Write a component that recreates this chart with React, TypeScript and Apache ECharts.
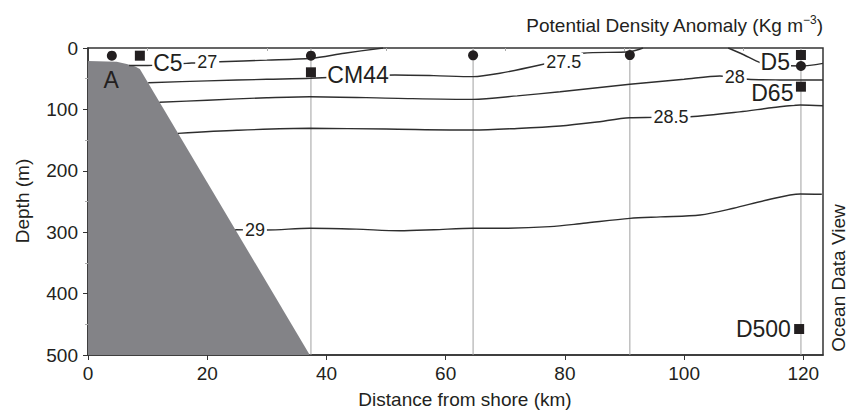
import React, { useEffect, useRef } from "react";
import * as echarts from "echarts";

// ---- data (distance km, depth m) ----
const xMax = 123.3;
const xTicks = [0, 20, 40, 60, 80, 100, 120];
const xMinorTicks = [10, 30, 50, 70, 90, 110];
const yTicks = [0, 100, 200, 300, 400, 500];
const yMinorTicks = [50, 150, 250, 350, 450];

const shelf = [
  [0, 21], [4.8, 22.5], [6.5, 26], [7.9, 30], [8.7, 34], [37.2, 500], [0, 500],
];

const stationLineX = [37.4, 64.6, 90.9, 119.6];

const circleStations = [
  [4.0, 12.5], [37.4, 12.5], [64.6, 12], [90.9, 11.5], [119.6, 29.3],
];
const squareStations = [
  [8.7, 12.5], [37.4, 39.6], [119.6, 11.4], [119.6, 63], [119.3, 457.7],
];

const stationNames = ["A", "C5", "CM44", "D5", "D65", "D500"];
const stationLabelX = [3.9, 13.4, 45.3, 115.3, 114.8, 113.3];
const stationLabelD = [52, 25, 44, 22.3, 73.8, 457.7];

const contourNames = ["27", "27.5", "28", "28.5", "29"];
const contourLabelX = [20.0, 79.8, 108.5, 97.8, 28.0];
const contourLabelD = [22, 23, 46.5, 113, 296.4];

const c27 = [
  [6.9, 28.5], [10, 28.5], [13, 27], [16.5, 25], [19, 23.5], [22.1, 22.3],
  [30, 19.8], [37.4, 16.8], [43, 8.5], [49.5, 0],
];
const c275a = [
  [10.1, 56.5], [20, 53.5], [30, 51], [37.4, 49.3], [45, 46], [51.5, 44],
  [58, 45], [64.6, 46.7], [69.1, 41.2], [75.8, 27.7], [79.8, 18], [83, 8.6],
  [90.9, 6], [93.1, 0],
];
const c275b = [
  [107.4, 0], [110, 11], [112.8, 24], [116, 28], [119.6, 29.3], [123.3, 25],
];
const c28 = [
  [12.0, 88.4], [20, 85], [30, 81], [37.2, 79.3], [52, 82], [64.6, 83.6],
  [72, 78], [79.2, 71.2], [90.9, 59.1], [100, 51], [106, 45.6], [110.7, 51],
  [116, 52], [123.3, 52.1],
];
const c285 = [
  [15.1, 139], [25, 134], [37.2, 130.8], [50, 132], [64.6, 133.6], [72, 131],
  [79.2, 127], [85, 121], [90.9, 113.5], [95, 113], [101, 111.9], [109.3, 104],
  [115, 97], [119.5, 92.8], [123.3, 94],
];
const c29 = [
  [24.7, 296], [30, 296.4], [37.2, 293.6], [45, 295], [52.3, 297.6], [58, 296],
  [64.6, 293.6], [69.1, 293.6], [77.5, 291], [83.1, 285.5], [90.9, 277.4],
  [96, 275], [102.7, 272], [108.3, 261], [113.9, 247.6], [119.5, 237.8],
  [123.1, 238.3],
];
const contours = [c27, c275a, c275b, c28, c285, c29];

const FONT = "'Liberation Sans', Arial, Helvetica, sans-serif";
const TXT = "#231f20";

export default function App() {
  const ref = useRef<HTMLDivElement>(null);

  useEffect(() => {
    if (!ref.current) return;
    const chart = echarts.init(ref.current, null, { renderer: "svg" });

    const gridL = 88, gridT = 48, gridW = 735, gridH = 307;

    const contourSeries = contours.map((c) => ({
      type: "line",
      data: c,
      smooth: 0.3,
      showSymbol: false,
      symbol: "none",
      silent: true,
      z: 3,
      lineStyle: { color: "#2e2e2e", width: 1.4 },
    }));

    const vLines = stationLineX.map((x) => ({
      type: "line",
      data: [[x, 0], [x, 500]],
      symbol: "none",
      silent: true,
      z: 2,
      lineStyle: { color: "#a0a0a0", width: 1 },
    }));

    const option = {
      animation: false,
      backgroundColor: "#fff",
      textStyle: { fontFamily: FONT },
      grid: {
        left: gridL, top: gridT, width: gridW, height: gridH,
        show: true, borderColor: "#333", borderWidth: 1.5,
        backgroundColor: "transparent",
      },
      xAxis: [
        {
          type: "value", min: 0, max: xMax,
          axisLine: { show: true, onZero: false, lineStyle: { color: "#333", width: 1.5 } },
          axisTick: { show: true, customValues: xTicks, length: 5, lineStyle: { color: "#333", width: 1 } },
          axisLabel: { customValues: xTicks, fontSize: 19, color: TXT, margin: 9, fontFamily: FONT },
          splitLine: { show: false },
        },
        {
          type: "value", min: 0, max: xMax, position: "bottom",
          axisLine: { show: false },
          axisTick: { show: true, customValues: xMinorTicks, length: 3, lineStyle: { color: "#aaa", width: 1 } },
          axisLabel: { show: false },
          splitLine: { show: false },
        },
      ],
      yAxis: [
        {
          type: "value", min: 0, max: 500, interval: 100, inverse: true,
          axisLine: { show: true, onZero: false, lineStyle: { color: "#333", width: 1.5 } },
          axisTick: { show: true, customValues: yTicks, length: 5, lineStyle: { color: "#333", width: 1 } },
          axisLabel: { customValues: yTicks, fontSize: 19, color: TXT, margin: 10, fontFamily: FONT },
          splitLine: { show: false },
        },
        {
          type: "value", min: 0, max: 500, inverse: true, position: "left",
          axisLine: { show: false },
          axisTick: { show: true, customValues: yMinorTicks, length: 3, lineStyle: { color: "#aaa", width: 1 } },
          axisLabel: { show: false },
          splitLine: { show: false },
        },
      ],
      series: [
        {
          type: "custom",
          silent: true,
          z: 1,
          data: [[0, 0]],
          renderItem: (params: any, api: any) => {
            const pts = shelf.map((p) => api.coord(p));
            return { type: "polygon", shape: { points: pts }, style: { fill: "#838387" } };
          },
        },
        ...vLines,
        ...contourSeries,
        {
          type: "scatter",
          silent: true,
          z: 5,
          symbolSize: 1,
          itemStyle: { color: "transparent", opacity: 1 },
          data: contourNames.map((n, i) => ({ name: n, value: [contourLabelX[i], contourLabelD[i]] })),
          label: {
            show: true, position: "inside", formatter: "{b}", fontSize: 18,
            color: TXT, backgroundColor: "#fff", padding: [0, 2], fontFamily: FONT, opacity: 1,
          },
        },
        {
          type: "scatter",
          silent: true,
          z: 5,
          symbolSize: 1,
          itemStyle: { color: "transparent", opacity: 1 },
          data: stationNames.map((n, i) => ({
            name: n,
            value: [stationLabelX[i], stationLabelD[i]],
            label: n === "A" ? { backgroundColor: "transparent" } : undefined,
          })),
          label: {
            show: true, position: "inside", formatter: "{b}", fontSize: 23,
            color: TXT, backgroundColor: "#fff", padding: [0, 1], fontFamily: FONT, opacity: 1,
          },
        },
        {
          type: "scatter",
          silent: true,
          z: 6,
          symbol: "circle",
          symbolSize: 10,
          itemStyle: { color: TXT, opacity: 1 },
          data: circleStations,
        },
        {
          type: "scatter",
          silent: true,
          z: 6,
          symbol: "rect",
          symbolSize: 10,
          itemStyle: { color: TXT, opacity: 1 },
          data: squareStations,
        },
      ],
      graphic: [
        {
          type: "text", x: 823, y: 25, silent: true,
          style: {
            text: "{a|Potential Density Anomaly (Kg m}{b|\u22123}{a|)}",
            align: "right", verticalAlign: "middle", fill: TXT, fontFamily: FONT,
            rich: {
              a: { fontSize: 19, lineHeight: 22, fill: TXT, fontFamily: FONT },
              b: { fontSize: 12, verticalAlign: "top", lineHeight: 22, fill: TXT, fontFamily: FONT },
            },
          },
        },
        {
          type: "text", x: 22, y: 201, rotation: Math.PI / 2, silent: true,
          style: { text: "Depth (m)", align: "center", verticalAlign: "middle", fontSize: 19, fill: TXT, fontFamily: FONT },
        },
        {
          type: "text", x: 465, y: 399, silent: true,
          style: { text: "Distance from shore (km)", align: "center", verticalAlign: "middle", fontSize: 19, fill: TXT, fontFamily: FONT },
        },
        {
          type: "text", x: 838, y: 278, rotation: Math.PI / 2, silent: true,
          style: { text: "Ocean Data View", align: "center", verticalAlign: "middle", fontSize: 19, fill: TXT, fontFamily: FONT },
        },
      ],
    };

    chart.setOption(option as any);
    return () => chart.dispose();
  }, []);

  return (
    <div
      ref={ref}
      style={{ position: "absolute", left: 0, top: 0, width: 847, height: 413, background: "#fff" }}
    />
  );
}
